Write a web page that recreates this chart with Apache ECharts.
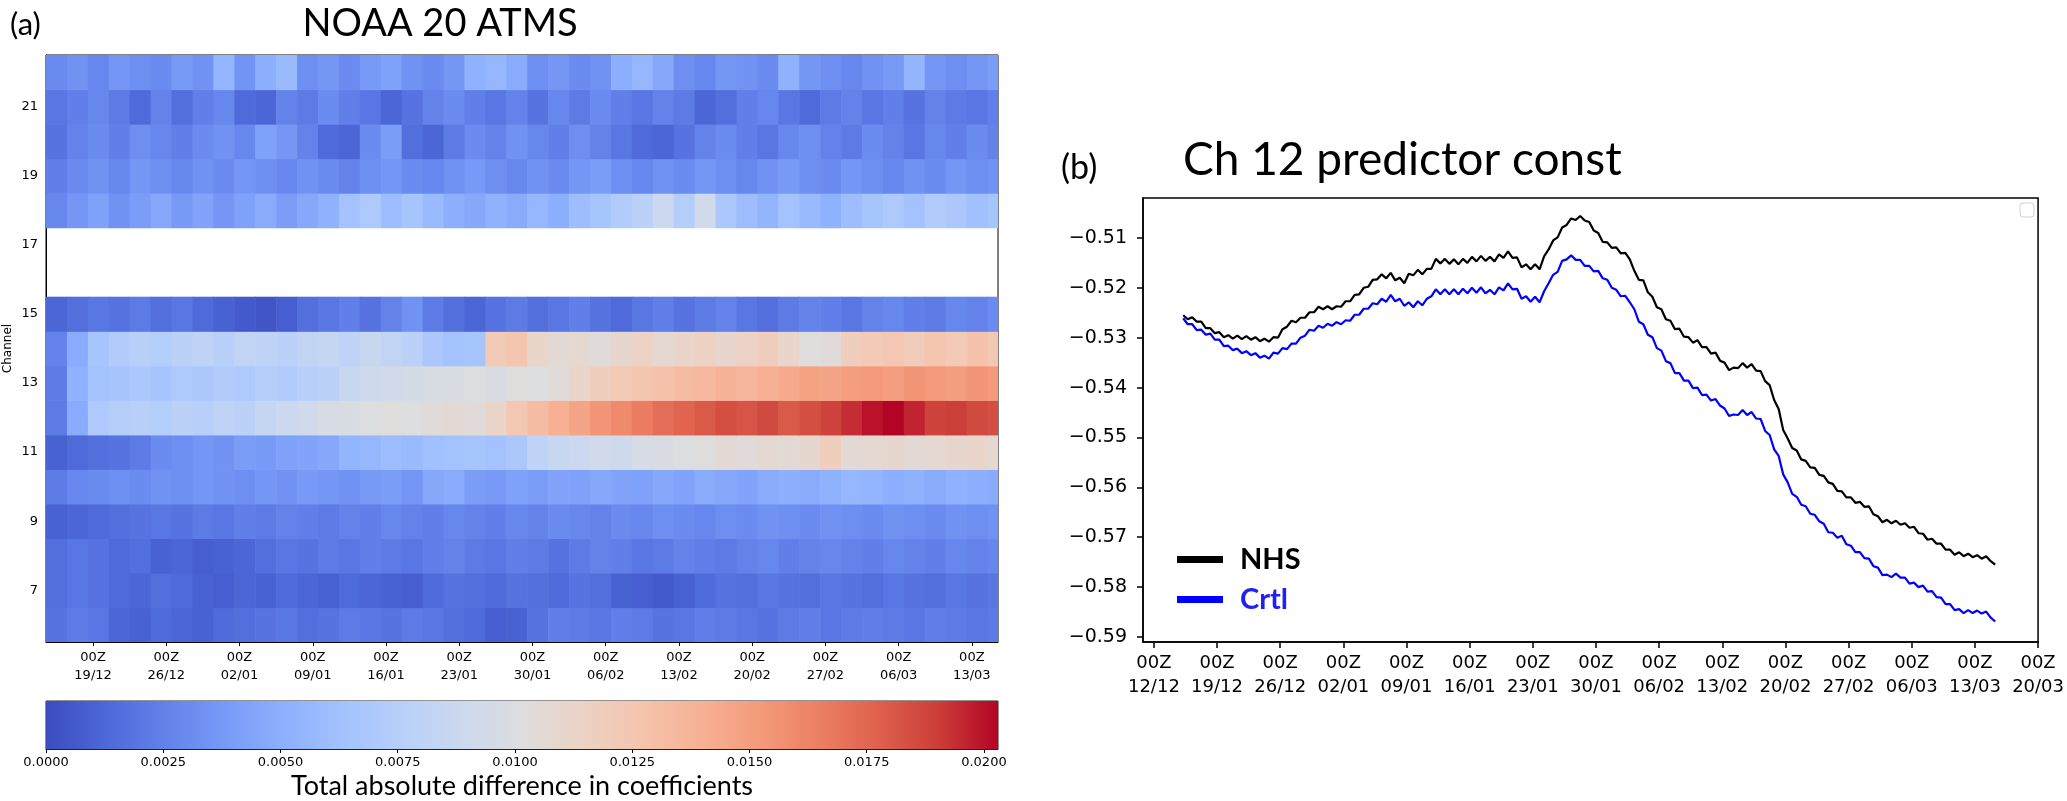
<!DOCTYPE html>
<html><head><meta charset="utf-8">
<script src="https://cdn.jsdelivr.net/npm/echarts@6/dist/echarts.min.js"></script>
<style>html,body{margin:0;padding:0;background:#fff}#c{width:2067px;height:801px}</style>
</head><body><div id="c"></div>
<script>
// ---------- Panel (a): heatmap ----------
const channelLabels = ['6','7','8','9','10','11','12','13','14','15','16','17','18','19','20','21','22'];
const heatStart = '2020-12-14T12:00:00Z';
const heatEnd = '2021-03-15T12:00:00Z';
const heatBinDays = 2;
const heatTicks = ['2020-12-19','2020-12-26','2021-01-02','2021-01-09','2021-01-16','2021-01-23','2021-01-30','2021-02-06','2021-02-13','2021-02-20','2021-02-27','2021-03-06','2021-03-13'];

const ch22 = [0.0030,0.0034,0.0028,0.0036,0.0032,0.0030,0.0038,0.0034,0.0055,0.0035,0.0050,0.0058,0.0032,0.0036,0.0030,0.0038,0.0042,0.0034,0.0030,0.0036,0.0052,0.0056,0.0048,0.0032,0.0036,0.0030,0.0034,0.0050,0.0056,0.0046,0.0032,0.0028,0.0036,0.0034,0.0030,0.0052,0.0036,0.0032,0.0028,0.0034,0.0038,0.0054,0.0036,0.0032,0.0036,0.0040];
const ch21 = [0.0020,0.0024,0.0028,0.0022,0.0014,0.0026,0.0016,0.0024,0.0028,0.0014,0.0012,0.0026,0.0022,0.0030,0.0024,0.0020,0.0012,0.0018,0.0026,0.0030,0.0024,0.0020,0.0026,0.0018,0.0028,0.0022,0.0030,0.0024,0.0020,0.0026,0.0022,0.0012,0.0016,0.0024,0.0028,0.0020,0.0014,0.0022,0.0026,0.0020,0.0024,0.0018,0.0026,0.0022,0.0020,0.0024];
const ch20 = [0.0018,0.0026,0.0030,0.0024,0.0032,0.0028,0.0024,0.0030,0.0034,0.0028,0.0042,0.0036,0.0026,0.0014,0.0012,0.0030,0.0040,0.0016,0.0012,0.0022,0.0030,0.0026,0.0034,0.0028,0.0024,0.0032,0.0026,0.0020,0.0014,0.0012,0.0018,0.0026,0.0030,0.0024,0.0020,0.0028,0.0032,0.0026,0.0022,0.0030,0.0026,0.0020,0.0028,0.0024,0.0030,0.0026];
const ch19 = [0.0024,0.0030,0.0034,0.0028,0.0036,0.0032,0.0028,0.0034,0.0030,0.0036,0.0032,0.0028,0.0034,0.0030,0.0026,0.0032,0.0036,0.0030,0.0028,0.0034,0.0038,0.0032,0.0028,0.0034,0.0030,0.0036,0.0040,0.0032,0.0028,0.0034,0.0030,0.0036,0.0032,0.0028,0.0034,0.0038,0.0032,0.0030,0.0036,0.0032,0.0028,0.0034,0.0030,0.0036,0.0032,0.0034];
const ch18 = [0.0028,0.0036,0.0042,0.0034,0.0040,0.0046,0.0038,0.0044,0.0036,0.0042,0.0048,0.0040,0.0046,0.0052,0.0064,0.0070,0.0060,0.0066,0.0058,0.0050,0.0046,0.0052,0.0048,0.0056,0.0050,0.0060,0.0066,0.0072,0.0078,0.0088,0.0074,0.0092,0.0068,0.0060,0.0054,0.0064,0.0058,0.0052,0.0060,0.0066,0.0070,0.0064,0.0072,0.0068,0.0062,0.0066];
const ch15 = [0.0012,0.0016,0.0020,0.0018,0.0022,0.0016,0.0020,0.0014,0.0010,0.0006,0.0004,0.0008,0.0016,0.0020,0.0024,0.0018,0.0026,0.0034,0.0022,0.0016,0.0012,0.0018,0.0022,0.0016,0.0020,0.0024,0.0018,0.0014,0.0020,0.0024,0.0018,0.0022,0.0026,0.0020,0.0016,0.0022,0.0026,0.0024,0.0020,0.0026,0.0028,0.0024,0.0022,0.0028,0.0026,0.0030];
const ch14 = [0.0026,0.0048,0.0066,0.0072,0.0076,0.0074,0.0078,0.0080,0.0076,0.0082,0.0080,0.0078,0.0082,0.0084,0.0080,0.0086,0.0082,0.0078,0.0068,0.0064,0.0066,0.0122,0.0126,0.0112,0.0106,0.0108,0.0104,0.0110,0.0114,0.0108,0.0112,0.0116,0.0110,0.0114,0.0118,0.0112,0.0102,0.0104,0.0118,0.0122,0.0124,0.0120,0.0126,0.0122,0.0128,0.0124];
const ch13 = [0.0022,0.0052,0.0064,0.0066,0.0068,0.0066,0.0070,0.0068,0.0072,0.0070,0.0074,0.0072,0.0076,0.0078,0.0086,0.0090,0.0092,0.0094,0.0096,0.0098,0.0100,0.0098,0.0102,0.0100,0.0104,0.0112,0.0118,0.0122,0.0126,0.0128,0.0132,0.0134,0.0138,0.0136,0.0140,0.0144,0.0148,0.0146,0.0150,0.0152,0.0150,0.0154,0.0152,0.0150,0.0154,0.0152];
const ch12 = [0.0022,0.0048,0.0070,0.0074,0.0076,0.0074,0.0078,0.0076,0.0080,0.0078,0.0084,0.0088,0.0092,0.0096,0.0098,0.0100,0.0102,0.0100,0.0104,0.0106,0.0104,0.0112,0.0124,0.0132,0.0140,0.0146,0.0154,0.0160,0.0166,0.0172,0.0176,0.0180,0.0184,0.0182,0.0186,0.0180,0.0184,0.0188,0.0194,0.0200,0.0203,0.0196,0.0188,0.0190,0.0186,0.0184];
const ch11 = [0.0010,0.0014,0.0016,0.0018,0.0022,0.0030,0.0032,0.0036,0.0034,0.0040,0.0038,0.0042,0.0044,0.0046,0.0054,0.0056,0.0060,0.0058,0.0062,0.0064,0.0066,0.0064,0.0068,0.0080,0.0086,0.0088,0.0092,0.0090,0.0096,0.0098,0.0100,0.0102,0.0106,0.0104,0.0108,0.0106,0.0110,0.0118,0.0106,0.0108,0.0110,0.0106,0.0108,0.0110,0.0112,0.0108];
const ch10 = [0.0022,0.0028,0.0030,0.0032,0.0030,0.0034,0.0032,0.0036,0.0034,0.0032,0.0036,0.0034,0.0038,0.0036,0.0034,0.0038,0.0040,0.0036,0.0046,0.0048,0.0040,0.0038,0.0042,0.0040,0.0044,0.0042,0.0046,0.0044,0.0042,0.0046,0.0044,0.0048,0.0046,0.0044,0.0048,0.0050,0.0048,0.0052,0.0056,0.0054,0.0050,0.0052,0.0048,0.0052,0.0050,0.0048];
const ch9 = [0.0010,0.0012,0.0014,0.0016,0.0018,0.0020,0.0018,0.0022,0.0020,0.0024,0.0022,0.0026,0.0024,0.0022,0.0026,0.0024,0.0028,0.0026,0.0024,0.0028,0.0026,0.0024,0.0028,0.0026,0.0030,0.0028,0.0026,0.0030,0.0028,0.0032,0.0030,0.0028,0.0032,0.0030,0.0034,0.0032,0.0030,0.0034,0.0032,0.0030,0.0034,0.0032,0.0030,0.0034,0.0032,0.0034];
const ch8 = [0.0016,0.0020,0.0018,0.0014,0.0016,0.0010,0.0012,0.0008,0.0010,0.0012,0.0016,0.0020,0.0018,0.0022,0.0020,0.0024,0.0022,0.0020,0.0024,0.0026,0.0022,0.0020,0.0024,0.0022,0.0018,0.0022,0.0026,0.0024,0.0020,0.0022,0.0026,0.0024,0.0022,0.0026,0.0028,0.0024,0.0026,0.0028,0.0026,0.0024,0.0028,0.0026,0.0024,0.0028,0.0026,0.0028];
const ch7 = [0.0016,0.0020,0.0018,0.0014,0.0012,0.0016,0.0014,0.0010,0.0008,0.0012,0.0010,0.0014,0.0012,0.0010,0.0014,0.0012,0.0010,0.0008,0.0014,0.0018,0.0016,0.0014,0.0018,0.0016,0.0014,0.0018,0.0016,0.0010,0.0008,0.0006,0.0010,0.0014,0.0018,0.0016,0.0020,0.0018,0.0016,0.0020,0.0018,0.0016,0.0020,0.0018,0.0016,0.0020,0.0018,0.0020];
const ch6 = [0.0018,0.0022,0.0020,0.0012,0.0010,0.0014,0.0012,0.0010,0.0014,0.0016,0.0018,0.0020,0.0016,0.0018,0.0022,0.0020,0.0018,0.0022,0.0020,0.0016,0.0014,0.0008,0.0010,0.0018,0.0024,0.0022,0.0020,0.0024,0.0022,0.0018,0.0020,0.0024,0.0022,0.0020,0.0018,0.0022,0.0024,0.0020,0.0022,0.0024,0.0022,0.0020,0.0024,0.0022,0.0020,0.0022];

const heatRows = [['6',ch6],['7',ch7],['8',ch8],['9',ch9],['10',ch10],['11',ch11],['12',ch12],['13',ch13],['14',ch14],['15',ch15],['18',ch18],['19',ch19],['20',ch20],['21',ch21],['22',ch22]];

// colorbar
const cbMin = 0, cbMax = 0.0203;
const cbTicks = [0,0.0025,0.005,0.0075,0.01,0.0125,0.015,0.0175,0.02];
const coolwarm = ['#3b4cc0','#4d68d7','#6282ea','#779af7','#8db0fe','#a3c2fe','#b8d0f9','#ccd9ee','#dddddd','#ecd3c5','#f5c4ad','#f7b194','#f49a7b','#ec7f63','#de604d','#cb3e38','#b40426'];

// ---------- Panel (b): line chart ----------
const lineStart = '2020-12-15T06:00:00Z';
const lineStepHours = 12;
const lineXMin = '2020-12-10T19:00:00Z';
const lineXMax = '2021-03-20T00:00:00Z';
const lineTicks = ['2020-12-12','2020-12-19','2020-12-26','2021-01-02','2021-01-09','2021-01-16','2021-01-23','2021-01-30','2021-02-06','2021-02-13','2021-02-20','2021-02-27','2021-03-06','2021-03-13','2021-03-20'];
const yTicksB = [-0.59,-0.58,-0.57,-0.56,-0.55,-0.54,-0.53,-0.52,-0.51];
const nhs = [
-0.5255,-0.5263,-0.5259,-0.5268,-0.5268,-0.5281,-0.5281,-0.5291,-0.5289,-0.5299,
-0.5295,-0.5302,-0.5296,-0.5303,-0.5297,-0.5304,-0.5299,-0.5307,-0.5302,-0.5308,
-0.5299,-0.5300,-0.5283,-0.5278,-0.5266,-0.5269,-0.5260,-0.5260,-0.5249,-0.5249,
-0.5238,-0.5243,-0.5237,-0.5243,-0.5237,-0.5238,-0.5227,-0.5227,-0.5214,-0.5213,
-0.5200,-0.5198,-0.5184,-0.5183,-0.5173,-0.5181,-0.5170,-0.5185,-0.5180,-0.5191,
-0.5172,-0.5175,-0.5164,-0.5173,-0.5162,-0.5162,-0.5142,-0.5151,-0.5142,-0.5152,
-0.5143,-0.5153,-0.5142,-0.5150,-0.5138,-0.5147,-0.5136,-0.5146,-0.5138,-0.5147,
-0.5133,-0.5140,-0.5127,-0.5140,-0.5139,-0.5159,-0.5153,-0.5163,-0.5153,-0.5163,
-0.5137,-0.5123,-0.5105,-0.5099,-0.5079,-0.5074,-0.5061,-0.5064,-0.5056,-0.5065,
-0.5068,-0.5085,-0.5090,-0.5108,-0.5109,-0.5120,-0.5119,-0.5131,-0.5130,-0.5143,
-0.5166,-0.5184,-0.5185,-0.5209,-0.5218,-0.5239,-0.5243,-0.5263,-0.5266,-0.5283,
-0.5282,-0.5298,-0.5299,-0.5310,-0.5305,-0.5319,-0.5319,-0.5332,-0.5330,-0.5346,
-0.5350,-0.5365,-0.5360,-0.5361,-0.5351,-0.5360,-0.5353,-0.5366,-0.5367,-0.5387,
-0.5395,-0.5425,-0.5443,-0.5485,-0.5502,-0.5521,-0.5526,-0.5544,-0.5547,-0.5560,
-0.5561,-0.5575,-0.5577,-0.5590,-0.5593,-0.5607,-0.5608,-0.5620,-0.5620,-0.5631,
-0.5629,-0.5639,-0.5638,-0.5654,-0.5658,-0.5670,-0.5665,-0.5672,-0.5667,-0.5675,
-0.5672,-0.5681,-0.5679,-0.5692,-0.5693,-0.5705,-0.5703,-0.5713,-0.5713,-0.5725,
-0.5725,-0.5735,-0.5730,-0.5738,-0.5733,-0.5740,-0.5736,-0.5743,-0.5738,-0.5748,
-0.5755];
const crtl = [
-0.5261,-0.5273,-0.5273,-0.5285,-0.5284,-0.5294,-0.5292,-0.5304,-0.5304,-0.5317,
-0.5316,-0.5325,-0.5322,-0.5331,-0.5327,-0.5335,-0.5331,-0.5340,-0.5336,-0.5342,
-0.5330,-0.5332,-0.5321,-0.5323,-0.5312,-0.5312,-0.5300,-0.5296,-0.5284,-0.5286,
-0.5276,-0.5280,-0.5272,-0.5276,-0.5269,-0.5273,-0.5265,-0.5266,-0.5254,-0.5254,
-0.5242,-0.5242,-0.5231,-0.5233,-0.5222,-0.5228,-0.5214,-0.5227,-0.5222,-0.5236,
-0.5229,-0.5239,-0.5227,-0.5235,-0.5222,-0.5217,-0.5203,-0.5213,-0.5203,-0.5213,
-0.5203,-0.5213,-0.5202,-0.5211,-0.5200,-0.5210,-0.5199,-0.5211,-0.5204,-0.5213,
-0.5199,-0.5205,-0.5191,-0.5203,-0.5202,-0.5222,-0.5217,-0.5228,-0.5218,-0.5229,
-0.5207,-0.5191,-0.5174,-0.5168,-0.5146,-0.5143,-0.5135,-0.5144,-0.5144,-0.5156,
-0.5156,-0.5167,-0.5166,-0.5181,-0.5184,-0.5200,-0.5204,-0.5217,-0.5216,-0.5229,
-0.5243,-0.5268,-0.5273,-0.5294,-0.5299,-0.5321,-0.5326,-0.5347,-0.5351,-0.5371,
-0.5371,-0.5386,-0.5386,-0.5401,-0.5400,-0.5415,-0.5414,-0.5426,-0.5423,-0.5436,
-0.5442,-0.5457,-0.5454,-0.5455,-0.5445,-0.5455,-0.5449,-0.5462,-0.5463,-0.5487,
-0.5495,-0.5524,-0.5537,-0.5574,-0.5590,-0.5613,-0.5619,-0.5635,-0.5638,-0.5653,
-0.5655,-0.5668,-0.5673,-0.5690,-0.5691,-0.5701,-0.5697,-0.5714,-0.5717,-0.5730,
-0.5730,-0.5742,-0.5743,-0.5758,-0.5761,-0.5776,-0.5775,-0.5780,-0.5773,-0.5781,
-0.5781,-0.5793,-0.5791,-0.5800,-0.5797,-0.5809,-0.5808,-0.5820,-0.5821,-0.5834,
-0.5834,-0.5846,-0.5844,-0.5852,-0.5846,-0.5852,-0.5847,-0.5853,-0.5849,-0.5861,
-0.5869];

// ---------- build ----------
const DAY = 86400000;
const tStart = Date.parse(heatStart), tEnd = Date.parse(heatEnd);
const binMs = heatBinDays * DAY;
const heatData = [];
heatRows.forEach(([ch, arr]) => {
  const ci = channelLabels.indexOf(ch);
  arr.forEach((v, k) => heatData.push([tStart + k * binMs, ci, v]));
});
const l0 = Date.parse(lineStart), stepMs = lineStepHours * 3600000;
const nhsData = nhs.map((v, i) => [l0 + i * stepMs, v]);
const crtlData = crtl.map((v, i) => [l0 + i * stepMs, v]);
const pad = n => (n < 10 ? '0' : '') + n;
const fmtDate = v => { const d = new Date(v); return '00Z\n' + pad(d.getUTCDate()) + '/' + pad(d.getUTCMonth() + 1); };

const TICKF = 'DejaVu Sans';
const TITLEF = 'Lato';

const chart = echarts.init(document.getElementById('c'));
chart.setOption({
  animation: false,
  backgroundColor: '#fff',
  grid: [
    {left: 46, top: 55, width: 952, height: 587, show: true, borderColor: '#000', borderWidth: 1, backgroundColor: 'transparent'},
    {left: 46, top: 701, width: 952, height: 50, show: true, borderColor: '#222', borderWidth: 1, backgroundColor: 'transparent'},
    {left: 1143, top: 198, width: 897, height: 444, show: true, borderColor: '#000', borderWidth: 1.5, backgroundColor: 'transparent'}
  ],
  visualMap: {type: 'continuous', show: false, min: cbMin, max: cbMax, dimension: 2, seriesIndex: 0, inRange: {color: coolwarm}},
  xAxis: [
    {gridIndex: 0, type: 'value', min: tStart, max: tEnd, splitLine: {show: false},
     axisLine: {show: true, lineStyle: {color: '#000', width: 1}},
     axisTick: {show: true, length: 4, lineStyle: {color: '#000'}, customValues: heatTicks.map(Date.parse)},
     axisLabel: {customValues: heatTicks.map(Date.parse), formatter: fmtDate, fontFamily: TICKF, fontSize: 13, lineHeight: 18, color: '#000', margin: 7}},
    {gridIndex: 1, type: 'value', min: cbMin, max: cbMax, splitLine: {show: false},
     axisLine: {show: true, lineStyle: {color: '#222'}},
     axisTick: {show: true, length: 4, lineStyle: {color: '#000'}, customValues: cbTicks},
     axisLabel: {customValues: cbTicks, formatter: v => v.toFixed(4), fontFamily: TICKF, fontSize: 13, color: '#000', margin: 7},
     name: 'Total absolute difference in coefficients', nameLocation: 'middle', nameGap: 24,
     nameTextStyle: {fontFamily: TITLEF, fontSize: 27, color: '#000'}},
    {gridIndex: 2, type: 'value', min: Date.parse(lineXMin), max: Date.parse(lineXMax), splitLine: {show: false},
     axisLine: {show: true, lineStyle: {color: '#000', width: 1.5}},
     axisTick: {show: true, length: 6, lineStyle: {color: '#000', width: 1.5}, customValues: lineTicks.map(Date.parse)},
     axisLabel: {customValues: lineTicks.map(Date.parse), formatter: fmtDate, fontFamily: TICKF, fontSize: 18, lineHeight: 24, color: '#000', margin: 9}}
  ],
  yAxis: [
    {gridIndex: 0, type: 'category', data: channelLabels, boundaryGap: true,
     axisLine: {show: true, lineStyle: {color: '#000'}}, axisTick: {show: false}, splitLine: {show: false},
     axisLabel: {interval: (i, v) => Number(v) % 2 === 1, fontFamily: TICKF, fontSize: 13, color: '#000', margin: 8},
     name: 'Channel', nameLocation: 'middle', nameRotate: 90, nameGap: 32,
     nameTextStyle: {fontFamily: TICKF, fontSize: 12, color: '#000'}},
    {gridIndex: 1, type: 'value', min: 0, max: 1, show: false},
    {gridIndex: 2, type: 'value', min: -0.591, max: -0.502, splitLine: {show: false},
     axisLine: {show: true, lineStyle: {color: '#000', width: 1.5}},
     axisTick: {show: true, length: 6, lineStyle: {color: '#000', width: 1.5}, customValues: yTicksB},
     axisLabel: {customValues: yTicksB, formatter: v => '\u2212' + Math.abs(v).toFixed(2), fontFamily: TICKF, fontSize: 19, color: '#000', margin: 16}}
  ],
  legend: {
    data: [{name: 'NHS', textStyle: {color: '#000'}}, {name: 'Crtl', textStyle: {color: '#2020f5'}}],
    orient: 'vertical', left: 1172, top: 540, icon: 'rect', itemWidth: 46, itemHeight: 7, itemGap: 11,
    textStyle: {fontFamily: TITLEF, fontWeight: 'bold', fontSize: 29, padding: [0, 0, 0, 12]}
  },
  series: [
    {type: 'custom', xAxisIndex: 0, yAxisIndex: 0, clip: true, encode: {x: 0, y: 1}, data: heatData,
     renderItem: (params, api) => {
       const t = api.value(0), ci = api.value(1);
       const p0 = api.coord([t, ci]);
       const p1 = api.coord([Math.min(t + binMs, tEnd), ci]);
       const h = api.size([0, 1])[1];
       return {type: 'rect', shape: {x: p0[0], y: p0[1] - h / 2, width: p1[0] - p0[0] + 0.6, height: h + 0.6},
               style: {fill: api.visual('color')}};
     }},
    {type: 'custom', xAxisIndex: 1, yAxisIndex: 1, encode: {x: [0, 1]}, data: [[cbMin, cbMax]],
     renderItem: (params, api) => {
       const a = api.coord([api.value(0), 1]);
       const b = api.coord([api.value(1), 0]);
       const stops = coolwarm.map((c, i) => ({offset: i / (coolwarm.length - 1), color: c}));
       return {type: 'rect', shape: {x: a[0], y: a[1], width: b[0] - a[0], height: b[1] - a[1]},
               style: {fill: new echarts.graphic.LinearGradient(0, 0, 1, 0, stops)}};
     }},
    {name: 'NHS', type: 'line', xAxisIndex: 2, yAxisIndex: 2, data: nhsData, showSymbol: false, symbol: 'none',
     color: '#000', lineStyle: {color: '#000', width: 2.2}},
    {name: 'Crtl', type: 'line', xAxisIndex: 2, yAxisIndex: 2, data: crtlData, showSymbol: false, symbol: 'none',
     color: '#0000ff', lineStyle: {color: '#0000ff', width: 2.2}}
  ],
  graphic: [
    {type: 'text', x: 10, y: 25, style: {text: '(a)', fontFamily: TITLEF, fontSize: 31, fill: '#000', align: 'left', verticalAlign: 'middle', textAlign: 'left', textVerticalAlign: 'middle'}},
    {type: 'text', x: 440, y: 24, style: {text: 'NOAA 20 ATMS', fontFamily: TITLEF, fontSize: 38, fill: '#000', align: 'center', verticalAlign: 'middle', textAlign: 'center', textVerticalAlign: 'middle'}},
    {type: 'text', x: 1061, y: 168, style: {text: '(b)', fontFamily: TITLEF, fontSize: 34, fill: '#000', align: 'left', verticalAlign: 'middle', textAlign: 'left', textVerticalAlign: 'middle'}},
    {type: 'text', x: 1183, y: 160, style: {text: 'Ch 12 predictor const', fontFamily: TITLEF, fontSize: 46, fill: '#000', align: 'left', verticalAlign: 'middle', textAlign: 'left', textVerticalAlign: 'middle'}},
    {type: 'rect', x: 2020, y: 203, shape: {width: 14, height: 14, r: 3}, style: {fill: '#fff', stroke: '#d0d0d0', lineWidth: 1}}
  ]
});
</script></body></html>
